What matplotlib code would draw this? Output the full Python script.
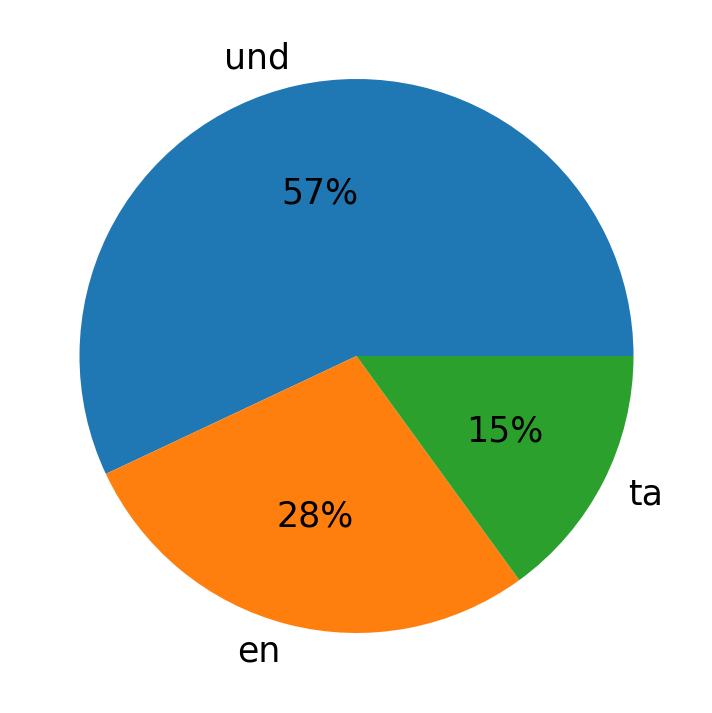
import matplotlib
matplotlib.use("Agg")
import matplotlib.pyplot as plt

# language share
labels = ["und", "en", "ta"]
shares = [57, 28, 15]

fig = plt.figure(figsize=(7.12, 7.13), dpi=100)
# axes square in pixels, centred on the pie
r_px = 277
cx, cy = 356.5, 357
size = 2.5 * r_px
ax = fig.add_axes([(cx - size / 2) / 712, (cy - size / 2) / 713, size / 712, size / 713])

ax.pie(shares, labels=labels, autopct="%1.0f%%",
       textprops={"fontsize": 25})

fig.savefig("out.png", dpi=100)
